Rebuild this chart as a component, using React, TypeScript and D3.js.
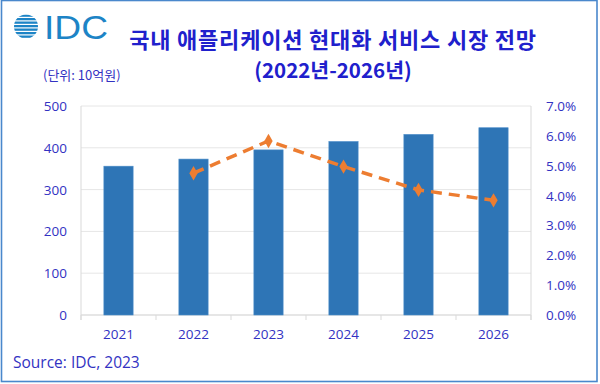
import React from "react";
import * as d3 from "d3";

const years = ["2021", "2022", "2023", "2024", "2025", "2026"];
const marketValues = [356, 373, 395, 415, 432, 448];
const growthYears = ["2022", "2023", "2024", "2025", "2026"];
const growthRates = [0.0475, 0.0583, 0.0497, 0.0419, 0.0384];
const leftTicks = [0, 100, 200, 300, 400, 500];
const rightTicks = [0, 0.01, 0.02, 0.03, 0.04, 0.05, 0.06, 0.07];

const W = 600;
const H = 384;
const M = { left: 81, right: 531, top: 106, bottom: 315 };
const TEXT = "#3232c2";
const FONT = "'Open Sans', 'Noto Sans', sans-serif";
const KFONT = "'Noto Sans CJK KR', sans-serif";

export default function App() {
  const x = d3.scaleBand<string>().domain(years).range([M.left, M.right]).paddingInner(0.61).paddingOuter(0.305);
  const xc = (d: string) => (x(d) ?? 0) + x.bandwidth() / 2;
  const yL = d3.scaleLinear().domain([0, 500]).range([M.bottom, M.top]);
  const yR = d3.scaleLinear().domain([0, 0.07]).range([M.bottom, M.top]);
  const step = (M.right - M.left) / years.length;
  const line = d3
    .line<number>()
    .x((_, i) => xc(growthYears[i]))
    .y((d) => yR(d));
  const diamond = d3.symbol().type(d3.symbolDiamond).size(60)();
  const stripes = d3.range(7);

  return (
    <svg width={W} height={H} style={{ position: "absolute", left: 0, top: 0, background: "#fff" }}>
      <rect x={0} y={0} width={W} height={H} fill="#fff" />
      <rect x={1.5} y={0.5} width={595.5} height={381} fill="none" stroke="#4a88cc" strokeWidth={1.6} />

      {/* IDC logo */}
      <defs>
        <clipPath id="globe">
          <circle cx={26} cy={26.5} r={12} />
        </clipPath>
      </defs>
      <g clipPath="url(#globe)">
        {stripes.map((i) => (
          <rect key={i} x={10} y={14.5 + i * 3.5} width={40} height={2.3} fill="#1d84c6" />
        ))}
      </g>
      <text
        x={44}
        y={38.5}
        fontFamily="'Liberation Sans', Arial, sans-serif"
        fontSize={32.5}
        fill="#1d84c6"
        textLength={64}
        lengthAdjust="spacingAndGlyphs"
      >
        IDC
      </text>

      {/* Title */}
      <text x={333} y={48} textAnchor="middle" fontFamily={KFONT} fontWeight="bold" fontSize={22} letterSpacing={0.8} fill="#2020cc">
        국내 애플리케이션 현대화 서비스 시장 전망
      </text>
      <text x={333} y={78} textAnchor="middle" fontFamily={KFONT} fontWeight="bold" fontSize={20.5} fill="#2020cc">
        (2022년-2026년)
      </text>
      <text x={43} y={80} fontFamily={KFONT} fontSize={13} fill={TEXT}>
        (단위: 10억원)
      </text>

      {/* gridlines */}
      {leftTicks.map((t) => (
        <line key={"g" + t} x1={M.left} x2={M.right} y1={yL(t)} y2={yL(t)} stroke="#e6e6e6" strokeWidth={1} />
      ))}
      <line x1={M.left} x2={M.left} y1={M.top} y2={M.bottom + 5} stroke="#d9d9d9" />
      <line x1={M.right} x2={M.right} y1={M.top} y2={M.bottom + 5} stroke="#d9d9d9" />
      <line x1={M.left} x2={M.right} y1={M.bottom} y2={M.bottom} stroke="#d9d9d9" strokeWidth={1.2} />
      {d3.range(years.length + 1).map((i) => (
        <line key={"t" + i} x1={M.left + i * step} x2={M.left + i * step} y1={M.bottom} y2={M.bottom + 5} stroke="#d9d9d9" />
      ))}

      {/* bars */}
      {marketValues.map((v, i) => (
        <rect
          key={years[i]}
          x={x(years[i])}
          y={yL(v)}
          width={x.bandwidth()}
          height={yL(0) - yL(v)}
          fill="#2e75b6"
          stroke="#4a8cc8"
          strokeWidth={0.6}
        />
      ))}

      {/* growth line */}
      <path d={line(growthRates) ?? ""} fill="none" stroke="#ed7d31" strokeWidth={3.5} strokeDasharray="11,7" strokeLinecap="butt" />
      {growthRates.map((r, i) => (
        <path key={"m" + i} d={diamond ?? ""} transform={`translate(${xc(growthYears[i])},${yR(r)})`} fill="#ed7d31" />
      ))}

      {/* left axis labels */}
      {leftTicks.map((t) => (
        <text key={"l" + t} x={67} y={yL(t) + 5} textAnchor="end" fontFamily={FONT} fontSize={13.5} fill={TEXT}>
          {t}
        </text>
      ))}
      {/* right axis labels */}
      {rightTicks.map((t) => (
        <text key={"r" + t} x={546} y={yR(t) + 5} fontFamily={FONT} fontSize={13.5} fill={TEXT}>
          {d3.format(".1%")(t)}
        </text>
      ))}
      {/* x labels */}
      {years.map((yr) => (
        <text key={"x" + yr} x={xc(yr)} y={339} textAnchor="middle" fontFamily={FONT} fontSize={13.5} fill={TEXT}>
          {yr}
        </text>
      ))}

      <text x={13} y={368} fontFamily={FONT} fontSize={15.5} fill={TEXT}>
        Source: IDC, 2023
      </text>
    </svg>
  );
}
